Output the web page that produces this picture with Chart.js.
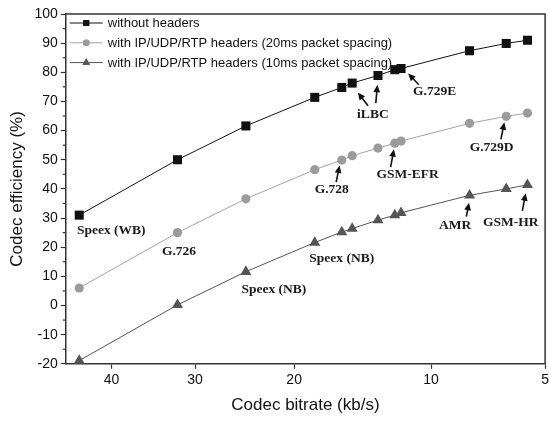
<!DOCTYPE html>
<html><head><meta charset="utf-8">
<script src="https://cdn.jsdelivr.net/npm/chart.js@4.4.1/dist/chart.umd.min.js"></script>
<style>html,body{margin:0;padding:0;background:#fff;overflow:hidden;width:549px;height:423px;}</style>
</head><body>
<canvas id="c" width="552" height="423"></canvas>
<script>
// ---- data ----
const bitrates = [44.2, 32, 24.6, 18.2, 16, 15.2, 13.33, 12.2, 11.8, 8, 6.4, 5.6];
const effNoHeaders = [31.0, 50.0, 61.6, 71.4, 74.8, 76.3, 78.9, 80.9, 81.3, 87.4, 89.9, 91.0];
const eff20ms = [6.0, 25.0, 36.6, 46.6, 49.9, 51.4, 54.0, 55.7, 56.4, 62.5, 64.9, 66.0];
const eff10ms = [-18.9, 0.2, 11.6, 21.6, 25.2, 26.4, 29.3, 31.0, 31.8, 37.8, 40.0, 41.4];
const seriesLabels = ['without headers', 'with IP/UDP/RTP headers (20ms packet spacing)', 'with IP/UDP/RTP headers (10ms packet spacing)'];
const xTicks = [40, 30, 20, 10, 5];
const yTicks = [-20, -10, 0, 10, 20, 30, 40, 50, 60, 70, 80, 90, 100];
const codecNames = ['Speex (WB)', 'G.726', 'Speex (NB)', 'Speex (NB)', 'G.728', 'iLBC', 'G.729E', 'G.729D', 'GSM-EFR', 'AMR', 'GSM-HR'];

// ---- custom bitrate axis (log + linear blend, as in the original plot) ----
const K = 0.0347;
const tf = v => Math.log(v) + K * v;
function inv(t){ let x = Math.exp(t); for (let i=0;i<40;i++){ const f = Math.log(x)+K*x-t; x = Math.max(1e-6, x - f/(1/x+K)); } return x; }
class BitrateScale extends Chart.Scale {
  parse(raw, index){ if (raw === null || raw === undefined) return null; const v = +raw; return isFinite(v) ? v : null; }
  determineDataLimits(){ const {min, max} = this.getMinMax(true); this.min = min; this.max = max; }
  buildTicks(){ return xTicks.filter(v => v >= this.min && v <= this.max).map(v => ({value: v})); }
  configure(){ super.configure(); this._startValue = tf(this.min); this._valueRange = tf(this.max) - tf(this.min); }
  getLabelForValue(v){ return String(v); }
  getPixelForValue(value){ if (value === null || value === undefined || isNaN(value)) return NaN; return this.getPixelForDecimal((tf(value) - this._startValue) / this._valueRange); }
  getValueForPixel(pixel){ return inv(this._startValue + this.getDecimalForPixel(pixel) * this._valueRange); }
}
BitrateScale.id = 'bitrate';
BitrateScale.defaults = {};
Chart.register(BitrateScale);

const styles = [
  {color:'#111111', line:'#111111', point:'rect', r:6.4, lr:4.2},
  {color:'#9b9b9b', line:'#a3a3a3', point:'circle', r:4.6, lr:3.3},
  {color:'#555555', line:'#555555', point:'triangle', r:6.4, lr:4.4}
];
const series = [effNoHeaders, eff20ms, eff10ms];

// annotation anchors: [series, point index], offsets in px for text and arrows
const annots = [
  {t:0, s:0, i:0, dx:32, dy:15},
  {t:1, s:1, i:1, dx:1.5, dy:19},
  {t:2, s:2, i:2, dx:28, dy:18},
  {t:3, s:2, i:3, dx:27, dy:16},
  {t:4, s:1, i:4, dx:-10, dy:29, arrows:[{s:1,i:4,tail:[-5.6,22],head:[-2.2,5.5]}]},
  {t:5, s:0, i:5, dx:20.7, dy:31.6, arrows:[{s:0,i:5,tail:[15.9,22.6],head:[5.5,9.4]},{s:0,i:6,tail:[-2.2,27.6],head:[-0.6,9.3]}]},
  {t:6, s:0, i:8, dx:33.6, dy:23, arrows:[{s:0,i:8,tail:[17.8,16.3],head:[7.1,5.0]}]},
  {t:7, s:1, i:10, dx:-14.6, dy:31.4, arrows:[{s:1,i:10,tail:[-5.3,23],head:[-1.9,6]}]},
  {t:8, s:1, i:7, dx:12.9, dy:31, arrows:[{s:1,i:7,tail:[-4.2,24],head:[-0.9,6]}]},
  {t:9, s:2, i:9, dx:-14.3, dy:30, arrows:[{s:2,i:9,tail:[-3.2,21.4],head:[-0.5,7.4]}]},
  {t:10, s:2, i:11, dx:-16.8, dy:37.3, arrows:[{s:2,i:11,tail:[-5.1,26],head:[-1.8,8.5]}]}
];

function drawArrow(ctx, x1, y1, x2, y2){
  const a = Math.atan2(y2-y1, x2-x1), hl = 7.5, hw = 3.4;
  ctx.beginPath(); ctx.moveTo(x1,y1); ctx.lineTo(x2 - Math.cos(a)*hl*0.7, y2 - Math.sin(a)*hl*0.7); ctx.stroke();
  ctx.beginPath(); ctx.moveTo(x2,y2);
  ctx.lineTo(x2 - hl*Math.cos(a) + hw*Math.sin(a), y2 - hl*Math.sin(a) - hw*Math.cos(a));
  ctx.lineTo(x2 - hl*Math.cos(a) - hw*Math.sin(a), y2 - hl*Math.sin(a) + hw*Math.cos(a));
  ctx.closePath(); ctx.fill();
}

const decor = {
  id:'decor',
  beforeDatasetsDraw(chart){
    const {ctx, chartArea:a, scales:{y}} = chart;
    ctx.save();
    ctx.strokeStyle = '#333'; ctx.lineWidth = 1.5;
    ctx.beginPath(); ctx.moveTo(a.left, a.top); ctx.lineTo(a.right, a.top); ctx.lineTo(a.right, a.bottom); ctx.stroke();
    // minor ticks on y
    ctx.lineWidth = 1.2;
    for (let k = 0; k < yTicks.length - 1; k++){
      const v = (yTicks[k] + yTicks[k+1]) / 2, py = y.getPixelForValue(v);
      ctx.beginPath(); ctx.moveTo(a.left - 3, py); ctx.lineTo(a.left, py); ctx.stroke();
    }
    ctx.restore();
  },
  afterDraw(chart){
    const {ctx, chartArea:a} = chart;
    ctx.save();
    // legend
    ctx.font = '13px "Liberation Sans", Arial, sans-serif';
    ctx.textBaseline = 'middle';
    seriesLabels.forEach((lab, k) => {
      const st = styles[k], yy = a.top + 9 + k*19.8, x1 = a.left + 4, x2 = a.left + 37;
      ctx.strokeStyle = st.line; ctx.lineWidth = 1;
      ctx.beginPath(); ctx.moveTo(x1, yy); ctx.lineTo(x2, yy); ctx.stroke();
      ctx.fillStyle = st.color;
      Chart.helpers.drawPoint(ctx, {pointStyle: st.point, radius: st.lr, borderWidth: 0}, (x1+x2)/2, yy);
      ctx.fill();
      ctx.fillStyle = '#111';
      ctx.fillText(lab, a.left + 42, yy + 0.5);
    });
    // annotations
    ctx.font = 'bold 13.5px "Liberation Serif", "Times New Roman", serif';
    ctx.textAlign = 'center'; ctx.textBaseline = 'middle';
    ctx.fillStyle = '#1a1a1a'; ctx.strokeStyle = '#111'; ctx.lineWidth = 1.6;
    annots.forEach(an => {
      const p = chart.getDatasetMeta(an.s).data[an.i];
      ctx.fillText(codecNames[an.t], p.x + an.dx, p.y + an.dy);
      (an.arrows || []).forEach(ar => {
        const q = chart.getDatasetMeta(ar.s).data[ar.i];
        ctx.fillStyle = '#111';
        drawArrow(ctx, q.x + ar.tail[0], q.y + ar.tail[1], q.x + ar.head[0], q.y + ar.head[1]);
        ctx.fillStyle = '#1a1a1a';
      });
    });
    ctx.restore();
  }
};

const fontAxis = {family:'"Liberation Sans", Arial, sans-serif', size:14};
new Chart(document.getElementById('c'), {
  type:'line',
  data:{
    datasets: series.map((vals, k) => ({
      label: seriesLabels[k],
      data: bitrates.map((b, i) => ({x:b, y:vals[i]})),
      borderColor: styles[k].line, borderWidth: 1,
      pointStyle: styles[k].point, pointRadius: styles[k].r,
      pointBackgroundColor: styles[k].color, pointBorderColor: styles[k].color, pointBorderWidth: 0,
      tension: 0, clip: false, fill: false
    }))
  },
  options:{
    responsive:false, animation:false, devicePixelRatio:1,
    layout:{padding:{left:3, right:5, top:14, bottom:3}},
    plugins:{legend:{display:false}, tooltip:{enabled:false}},
    scales:{
      x:{type:'bitrate', min:5, max:46, reverse:true,
        grid:{drawOnChartArea:false, tickLength:5, color:'#333', tickWidth:1.2},
        border:{color:'#333', width:1.5},
        ticks:{font:fontAxis, color:'#111', padding:3, maxRotation:0, autoSkip:false},
        title:{display:true, text:'Codec bitrate (kb/s)', color:'#111', font:{family:fontAxis.family, size:17}, padding:{top:4, bottom:4}}
      },
      y:{type:'linear', min:-20, max:100,
        afterBuildTicks: s => { s.ticks = yTicks.map(v => ({value:v})); },
        grid:{drawOnChartArea:false, tickLength:5, color:'#333', tickWidth:1.2},
        border:{color:'#333', width:1.5},
        ticks:{font:fontAxis, color:'#111', padding:3},
        title:{display:true, text:'Codec efficiency (%)', color:'#111', font:{family:fontAxis.family, size:17}, padding:{top:4, bottom:4}}
      }
    }
  },
  plugins:[decor]
});
</script>
</body></html>
